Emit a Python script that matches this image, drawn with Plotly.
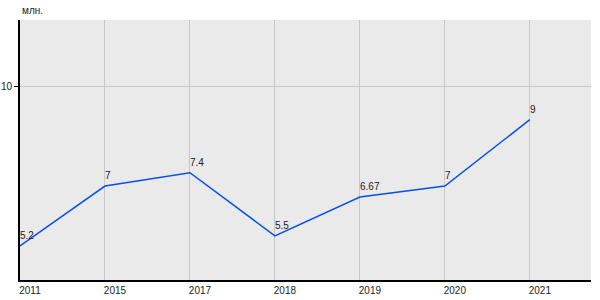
import plotly.graph_objects as go

years = ["2011", "2015", "2017", "2018", "2019", "2020", "2021"]
values = [5.2, 7, 7.4, 5.5, 6.67, 7, 9]
labels = ["5.2", "7", "7.4", "5.5", "6.67", "7", "9"]
unit_label = "млн."

idx = list(range(len(years)))

fig = go.Figure()
fig.add_trace(go.Scatter(
    x=idx, y=values, mode="lines",
    line=dict(color="#0a50e6", width=1.5),
    hoverinfo="skip", showlegend=False,
))

for i, v, t in zip(idx, values, labels):
    fig.add_annotation(
        x=i, y=v, text=t, showarrow=False,
        xanchor="left", yanchor="bottom", xshift=-2, yshift=3,
        font=dict(family="Arial, Liberation Sans", size=10, color="#222222"),
    )

fig.add_annotation(
    xref="paper", yref="paper", x=0, y=1, text=unit_label, showarrow=False,
    xanchor="left", yanchor="bottom", xshift=0, yshift=2,
    font=dict(family="Arial, Liberation Sans", size=10, color="#222222"),
)

fig.update_layout(
    width=600, height=300,
    margin=dict(l=20, r=9, t=20, b=20, autoexpand=False),
    paper_bgcolor="white",
    plot_bgcolor="#eaeaea",
    font=dict(family="Arial, Liberation Sans", size=10, color="#222222"),
)
fig.update_xaxes(
    range=[0, 6.72], tickvals=idx, ticktext=years,
    showgrid=True, gridcolor="#c8c8c8", gridwidth=1,
    showline=True, linecolor="black", linewidth=2,
    ticks="", ticklabelshift=10, ticklabelstandoff=0,
    zeroline=False, fixedrange=True, automargin=False,
)
fig.update_yaxes(
    range=[4.17, 12.0], tickvals=[10], ticktext=["10"],
    showgrid=True, gridcolor="#c8c8c8", gridwidth=1,
    showline=True, linecolor="black", linewidth=2,
    ticks="outside", ticklen=4, tickcolor="black", tickwidth=1,
    zeroline=False, fixedrange=True, automargin=False,
)

fig.write_html("out.html")
